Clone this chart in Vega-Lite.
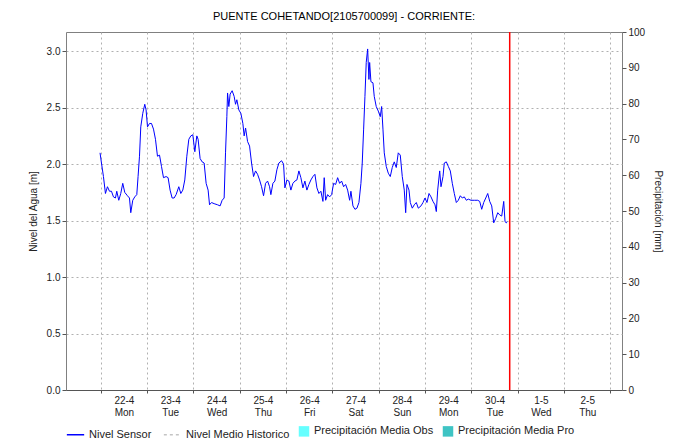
{
  "$schema": "https://vega.github.io/schema/vega-lite/v6.json",
  "width": 556,
  "height": 358,
  "autosize": {"type": "none"},
  "padding": {"left": 66, "top": 32, "right": 62, "bottom": 58},
  "background": "white",
  "title": {"text": "PUENTE COHETANDO[2105700099] - CORRIENTE:", "fontSize": 11, "fontWeight": "normal", "color": "#000", "offset": 5},
  "datasets": {
    "nivel": [
      {"t":"2019-04-21T23:38","v":2.10},{"t":"2019-04-22T00:22","v":2.01},{"t":"2019-04-22T01:24","v":1.89},{"t":"2019-04-22T02:26","v":1.74},
      {"t":"2019-04-22T03:28","v":1.80},{"t":"2019-04-22T04:31","v":1.76},{"t":"2019-04-22T05:33","v":1.76},{"t":"2019-04-22T06:35","v":1.71},
      {"t":"2019-04-22T07:37","v":1.70},{"t":"2019-04-22T08:18","v":1.76},{"t":"2019-04-22T09:20","v":1.68},{"t":"2019-04-22T10:22","v":1.74},
      {"t":"2019-04-22T11:24","v":1.83},{"t":"2019-04-22T12:26","v":1.75},{"t":"2019-04-22T13:50","v":1.72},{"t":"2019-04-22T14:53","v":1.70},
      {"t":"2019-04-22T15:33","v":1.57},{"t":"2019-04-22T16:35","v":1.68},{"t":"2019-04-22T17:37","v":1.71},{"t":"2019-04-22T18:40","v":1.73},
      {"t":"2019-04-22T19:20","v":1.89},{"t":"2019-04-22T20:04","v":2.07},{"t":"2019-04-22T20:44","v":2.33},{"t":"2019-04-22T21:46","v":2.45},
      {"t":"2019-04-22T22:48","v":2.53},{"t":"2019-04-22T23:29","v":2.48},{"t":"2019-04-23T00:13","v":2.33},{"t":"2019-04-23T01:15","v":2.36},
      {"t":"2019-04-23T02:17","v":2.36},{"t":"2019-04-23T03:19","v":2.31},{"t":"2019-04-23T04:21","v":2.22},{"t":"2019-04-23T05:23","v":2.07},
      {"t":"2019-04-23T06:26","v":2.08},{"t":"2019-04-23T07:28","v":1.98},{"t":"2019-04-23T08:30","v":1.88},{"t":"2019-04-23T09:51","v":1.89},
      {"t":"2019-04-23T10:53","v":1.88},{"t":"2019-04-23T11:55","v":1.77},{"t":"2019-04-23T12:58","v":1.70},{"t":"2019-04-23T14:00","v":1.70},
      {"t":"2019-04-23T15:02","v":1.73},{"t":"2019-04-23T16:26","v":1.80},{"t":"2019-04-23T17:28","v":1.74},{"t":"2019-04-23T18:30","v":1.77},
      {"t":"2019-04-23T19:32","v":1.86},{"t":"2019-04-23T20:35","v":2.07},{"t":"2019-04-23T21:37","v":2.22},{"t":"2019-04-23T22:39","v":2.25},
      {"t":"2019-04-23T23:41","v":2.26},{"t":"2019-04-24T00:44","v":2.11},{"t":"2019-04-24T01:46","v":2.25},{"t":"2019-04-24T02:26","v":2.22},
      {"t":"2019-04-24T03:28","v":2.05},{"t":"2019-04-24T04:31","v":2.02},{"t":"2019-04-24T05:33","v":2.01},{"t":"2019-04-24T06:35","v":1.83},
      {"t":"2019-04-24T07:37","v":1.77},{"t":"2019-04-24T08:21","v":1.64},{"t":"2019-04-24T09:23","v":1.66},{"t":"2019-04-24T10:44","v":1.65},
      {"t":"2019-04-24T12:30","v":1.64},{"t":"2019-04-24T13:50","v":1.63},{"t":"2019-04-24T14:53","v":1.68},{"t":"2019-04-24T15:55","v":1.70},
      {"t":"2019-04-24T16:38","v":2.10},{"t":"2019-04-24T17:19","v":2.42},{"t":"2019-04-24T17:41","v":2.63},{"t":"2019-04-24T18:21","v":2.51},
      {"t":"2019-04-24T19:01","v":2.62},{"t":"2019-04-24T20:04","v":2.65},{"t":"2019-04-24T21:06","v":2.60},{"t":"2019-04-24T21:49","v":2.53},
      {"t":"2019-04-24T22:30","v":2.57},{"t":"2019-04-24T23:32","v":2.48},{"t":"2019-04-25T00:34","v":2.45},{"t":"2019-04-25T01:37","v":2.36},
      {"t":"2019-04-25T02:17","v":2.25},{"t":"2019-04-25T03:01","v":2.32},{"t":"2019-04-25T04:03","v":2.20},{"t":"2019-04-25T05:05","v":2.16},
      {"t":"2019-04-25T06:07","v":2.01},{"t":"2019-04-25T07:09","v":1.89},{"t":"2019-04-25T08:11","v":1.94},{"t":"2019-04-25T09:14","v":1.91},
      {"t":"2019-04-25T10:16","v":1.86},{"t":"2019-04-25T11:18","v":1.80},{"t":"2019-04-25T12:20","v":1.72},{"t":"2019-04-25T13:22","v":1.83},
      {"t":"2019-04-25T14:25","v":1.85},{"t":"2019-04-25T15:27","v":1.80},{"t":"2019-04-25T16:07","v":1.73},{"t":"2019-04-25T17:10","v":1.83},
      {"t":"2019-04-25T18:12","v":1.85},{"t":"2019-04-25T19:14","v":1.95},{"t":"2019-04-25T20:16","v":2.01},{"t":"2019-04-25T21:40","v":2.03},
      {"t":"2019-04-25T22:42","v":2.00},{"t":"2019-04-25T23:23","v":1.79},{"t":"2019-04-26T00:25","v":1.86},{"t":"2019-04-26T01:27","v":1.85},
      {"t":"2019-04-26T02:29","v":1.77},{"t":"2019-04-26T03:32","v":1.83},{"t":"2019-04-26T04:34","v":1.85},{"t":"2019-04-26T05:36","v":1.86},
      {"t":"2019-04-26T06:38","v":1.94},{"t":"2019-04-26T07:40","v":1.88},{"t":"2019-04-26T08:43","v":1.79},{"t":"2019-04-26T09:45","v":1.85},
      {"t":"2019-04-26T10:47","v":1.77},{"t":"2019-04-26T11:49","v":1.82},{"t":"2019-04-26T12:51","v":1.86},{"t":"2019-04-26T13:54","v":1.89},
      {"t":"2019-04-26T14:56","v":1.91},{"t":"2019-04-26T15:58","v":1.79},{"t":"2019-04-26T17:00","v":1.74},{"t":"2019-04-26T18:02","v":1.76},
      {"t":"2019-04-26T19:05","v":1.67},{"t":"2019-04-26T19:45","v":1.88},{"t":"2019-04-26T20:29","v":1.68},{"t":"2019-04-26T21:31","v":1.73},
      {"t":"2019-04-26T22:33","v":1.71},{"t":"2019-04-26T23:35","v":1.73},{"t":"2019-04-27T00:37","v":1.83},{"t":"2019-04-27T01:40","v":1.82},
      {"t":"2019-04-27T02:42","v":1.88},{"t":"2019-04-27T03:44","v":1.83},{"t":"2019-04-27T04:46","v":1.85},{"t":"2019-04-27T05:48","v":1.80},
      {"t":"2019-04-27T06:51","v":1.82},{"t":"2019-04-27T07:53","v":1.77},{"t":"2019-04-27T08:55","v":1.68},{"t":"2019-04-27T09:35","v":1.76},
      {"t":"2019-04-27T10:38","v":1.63},{"t":"2019-04-27T11:40","v":1.60},{"t":"2019-04-27T12:42","v":1.61},{"t":"2019-04-27T13:44","v":1.66},
      {"t":"2019-04-27T14:46","v":1.83},{"t":"2019-04-27T15:27","v":2.01},{"t":"2019-04-27T16:10","v":2.31},{"t":"2019-04-27T16:51","v":2.60},
      {"t":"2019-04-27T17:31","v":2.90},{"t":"2019-04-27T18:15","v":3.02},{"t":"2019-04-27T18:55","v":2.75},{"t":"2019-04-27T19:17","v":2.90},
      {"t":"2019-04-27T19:57","v":2.73},{"t":"2019-04-27T21:00","v":2.72},{"t":"2019-04-27T21:40","v":2.60},{"t":"2019-04-27T22:42","v":2.51},
      {"t":"2019-04-27T23:45","v":2.47},{"t":"2019-04-28T00:47","v":2.42},{"t":"2019-04-28T01:30","v":2.51},{"t":"2019-04-28T02:11","v":2.31},
      {"t":"2019-04-28T02:51","v":2.10},{"t":"2019-04-28T03:53","v":1.98},{"t":"2019-04-28T04:56","v":1.92},{"t":"2019-04-28T05:58","v":1.89},
      {"t":"2019-04-28T07:00","v":1.97},{"t":"2019-04-28T08:02","v":2.02},{"t":"2019-04-28T09:04","v":1.97},{"t":"2019-04-28T10:07","v":2.10},
      {"t":"2019-04-28T11:09","v":2.08},{"t":"2019-04-28T12:11","v":1.89},{"t":"2019-04-28T13:13","v":1.77},{"t":"2019-04-28T13:57","v":1.57},
      {"t":"2019-04-28T14:37","v":1.82},{"t":"2019-04-28T15:40","v":1.77},{"t":"2019-04-28T16:20","v":1.66},{"t":"2019-04-28T17:22","v":1.61},
      {"t":"2019-04-28T18:24","v":1.64},{"t":"2019-04-28T19:27","v":1.66},{"t":"2019-04-28T20:29","v":1.61},{"t":"2019-04-28T21:53","v":1.63},
      {"t":"2019-04-28T22:55","v":1.66},{"t":"2019-04-28T23:57","v":1.70},{"t":"2019-04-29T00:59","v":1.66},{"t":"2019-04-29T02:02","v":1.74},
      {"t":"2019-04-29T03:04","v":1.71},{"t":"2019-04-29T04:06","v":1.67},{"t":"2019-04-29T05:08","v":1.64},{"t":"2019-04-29T05:49","v":1.58},
      {"t":"2019-04-29T06:32","v":1.77},{"t":"2019-04-29T07:34","v":1.94},{"t":"2019-04-29T08:15","v":1.80},{"t":"2019-04-29T09:17","v":1.89},
      {"t":"2019-04-29T09:57","v":2.01},{"t":"2019-04-29T11:00","v":2.02},{"t":"2019-04-29T12:02","v":1.98},{"t":"2019-04-29T13:04","v":1.94},
      {"t":"2019-04-29T14:06","v":1.83},{"t":"2019-04-29T15:08","v":1.74},{"t":"2019-04-29T16:11","v":1.66},{"t":"2019-04-29T17:13","v":1.68},
      {"t":"2019-04-29T18:15","v":1.72},{"t":"2019-04-29T19:17","v":1.70},{"t":"2019-04-29T20:19","v":1.71},{"t":"2019-04-29T21:22","v":1.68},
      {"t":"2019-04-29T22:24","v":1.69},{"t":"2019-04-29T23:47","v":1.68},{"t":"2019-04-30T01:30","v":1.68},{"t":"2019-04-30T03:16","v":1.68},
      {"t":"2019-04-30T04:18","v":1.67},{"t":"2019-04-30T05:20","v":1.60},{"t":"2019-04-30T06:22","v":1.66},{"t":"2019-04-30T07:25","v":1.70},
      {"t":"2019-04-30T08:27","v":1.74},{"t":"2019-04-30T09:29","v":1.67},{"t":"2019-04-30T10:31","v":1.63},{"t":"2019-04-30T11:33","v":1.48},
      {"t":"2019-04-30T12:35","v":1.52},{"t":"2019-04-30T13:38","v":1.57},{"t":"2019-04-30T14:40","v":1.55},{"t":"2019-04-30T15:42","v":1.54},
      {"t":"2019-04-30T16:44","v":1.67},{"t":"2019-04-30T17:25","v":1.49},{"t":"2019-04-30T18:06","v":1.48},{"t":"2019-04-30T18:28","v":1.49}
    ],
    "precip": [
      {"t":"2019-04-22T12:00","p":0,"serie":"Precipitación Media Obs"},{"t":"2019-04-23T12:00","p":0,"serie":"Precipitación Media Obs"},
      {"t":"2019-04-24T12:00","p":0,"serie":"Precipitación Media Obs"},{"t":"2019-04-25T12:00","p":0,"serie":"Precipitación Media Obs"},
      {"t":"2019-04-26T12:00","p":0,"serie":"Precipitación Media Obs"},{"t":"2019-04-27T12:00","p":0,"serie":"Precipitación Media Obs"},
      {"t":"2019-04-28T12:00","p":0,"serie":"Precipitación Media Obs"},{"t":"2019-04-29T12:00","p":0,"serie":"Precipitación Media Obs"},
      {"t":"2019-04-30T12:00","p":0,"serie":"Precipitación Media Obs"}
    ],
    "ahora": [{"t":"2019-04-30T19:50"}]
  },
  "layer": [
    {
      "data": {"name": "nivel"},
      "mark": {"type": "line", "strokeWidth": 1},
      "encoding": {
        "x": {
          "field": "t",
          "type": "temporal",
          "scale": {"domain": [{"year": 2019, "month": 4, "date": 21, "hours": 6}, {"year": 2019, "month": 5, "date": 3, "hours": 6}], "padding": 0},
          "axis": {
            "title": null,
            "orient": "bottom",
            "values": [
              {"year": 2019, "month": 4, "date": 22}, {"year": 2019, "month": 4, "date": 23}, {"year": 2019, "month": 4, "date": 24},
              {"year": 2019, "month": 4, "date": 25}, {"year": 2019, "month": 4, "date": 26}, {"year": 2019, "month": 4, "date": 27},
              {"year": 2019, "month": 4, "date": 28}, {"year": 2019, "month": 4, "date": 29}, {"year": 2019, "month": 4, "date": 30},
              {"year": 2019, "month": 5, "date": 1}, {"year": 2019, "month": 5, "date": 2}, {"year": 2019, "month": 5, "date": 3}
            ],
            "labels": false,
            "tickSize": 3,
            "grid": true,
            "gridDash": [2, 3],
            "gridColor": "#b0b0b0"
          }
        },
        "y": {
          "field": "v",
          "type": "quantitative",
          "scale": {"domain": [0, 3.17]},
          "axis": {"orient": "left", "title": "Nivel del Agua [m]", "values": [0, 0.5, 1, 1.5, 2, 2.5, 3], "format": ".1f", "grid": true, "gridDash": [2, 3], "gridColor": "#b0b0b0", "titlePadding": 8, "tickSize": 4, "labelPadding": 2, "domain": false}
        },
        "stroke": {
          "datum": "Nivel Sensor",
          "type": "nominal",
          "scale": {"domain": ["Nivel Sensor", "Nivel Medio Historico"], "range": ["#0000ff", "#c4c4c4"]},
          "legend": {
            "title": null, "orient": "bottom", "direction": "horizontal", "symbolType": "stroke", "symbolSize": 300, "symbolStrokeWidth": 1.5,
            "encode": {"symbols": {"update": {"strokeDash": {"signal": "datum.value == 'Nivel Medio Historico' ? [3, 3] : [1, 0]"}}}}
          }
        }
      }
    },
    {
      "data": {"name": "precip"},
      "mark": {"type": "bar", "width": 8},
      "encoding": {
        "x": {
          "field": "t",
          "type": "temporal",
          "axis": {
            "title": null,
            "orient": "bottom",
            "values": [
              {"year": 2019, "month": 4, "date": 22, "hours": 12}, {"year": 2019, "month": 4, "date": 23, "hours": 12}, {"year": 2019, "month": 4, "date": 24, "hours": 12},
              {"year": 2019, "month": 4, "date": 25, "hours": 12}, {"year": 2019, "month": 4, "date": 26, "hours": 12}, {"year": 2019, "month": 4, "date": 27, "hours": 12},
              {"year": 2019, "month": 4, "date": 28, "hours": 12}, {"year": 2019, "month": 4, "date": 29, "hours": 12}, {"year": 2019, "month": 4, "date": 30, "hours": 12},
              {"year": 2019, "month": 5, "date": 1, "hours": 12}, {"year": 2019, "month": 5, "date": 2, "hours": 12}
            ],
            "format": "%-d-%-m",
            "labelOverlap": false,
            "labelPadding": 5,
            "ticks": false,
            "domain": false,
            "grid": false
          }
        },
        "y": {
          "field": "p",
          "type": "quantitative",
          "scale": {"domain": [0, 100]},
          "axis": {"orient": "right", "title": "Precipitación [mm]", "values": [0, 10, 20, 30, 40, 50, 60, 70, 80, 90, 100], "grid": false, "titlePadding": 8, "tickSize": 4, "labelPadding": 2, "domain": false}
        },
        "fill": {
          "field": "serie",
          "type": "nominal",
          "scale": {"domain": ["Precipitación Media Obs", "Precipitación Media Pro"], "range": ["#66ffff", "#3fc4c4"]},
          "legend": {"title": null, "orient": "bottom", "direction": "horizontal", "symbolType": "square", "symbolSize": 110}
        }
      }
    },
    {
      "data": {"name": "ahora"},
      "mark": {"type": "rule", "color": "#ff0000", "strokeWidth": 1.5},
      "encoding": {
        "x": {
          "field": "t",
          "type": "temporal",
          "axis": {
            "title": null,
            "orient": "bottom",
            "values": [
              {"year": 2019, "month": 4, "date": 22, "hours": 12}, {"year": 2019, "month": 4, "date": 23, "hours": 12}, {"year": 2019, "month": 4, "date": 24, "hours": 12},
              {"year": 2019, "month": 4, "date": 25, "hours": 12}, {"year": 2019, "month": 4, "date": 26, "hours": 12}, {"year": 2019, "month": 4, "date": 27, "hours": 12},
              {"year": 2019, "month": 4, "date": 28, "hours": 12}, {"year": 2019, "month": 4, "date": 29, "hours": 12}, {"year": 2019, "month": 4, "date": 30, "hours": 12},
              {"year": 2019, "month": 5, "date": 1, "hours": 12}, {"year": 2019, "month": 5, "date": 2, "hours": 12}
            ],
            "format": "%a",
            "labelOverlap": false,
            "labelPadding": 17,
            "ticks": false,
            "domain": false,
            "grid": false
          }
        }
      }
    }
  ],
  "resolve": {"scale": {"y": "independent"}, "axis": {"y": "independent", "x": "independent"}},
  "config": {
    "font": "Liberation Sans",
    "view": {"stroke": "#808080"},
    "axis": {"labelFontSize": 10, "titleFontSize": 10, "titleFontWeight": "normal", "labelColor": "#222", "titleColor": "#222", "tickColor": "#555", "domainColor": "#555"},
    "legend": {"labelFontSize": 11, "labelColor": "#222", "offset": 8, "labelLimit": 300, "columnPadding": 8}
  }
}
